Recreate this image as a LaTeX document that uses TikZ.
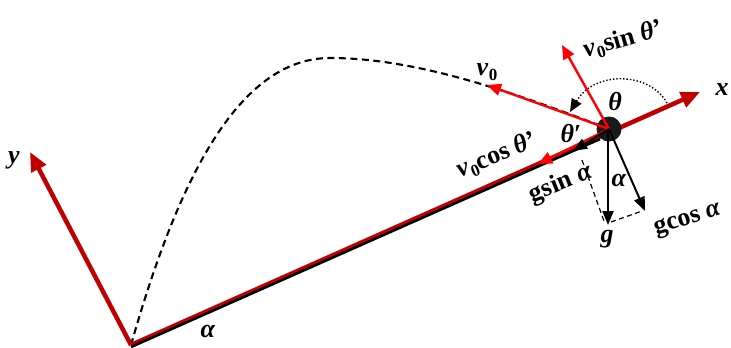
\documentclass[tikz,border=0pt]{standalone}
\usepackage{fontspec}
\setmainfont{Liberation Serif}
\usetikzlibrary{arrows.meta}
\definecolor{axisred}{HTML}{C00000}
\definecolor{vecred}{HTML}{FF0000}
\newcommand{\vsub}{\textit{v}\kern0.5pt\raisebox{-0.18em}{\fontsize{17}{17}\selectfont 0}}
\tikzset{
  lbl/.style={font=\fontsize{26}{28}\selectfont\bfseries, inner sep=0pt},
  axis/.style={line width=4.5pt, axisred, -{Triangle[length=19pt,width=16pt]}},
  rvec/.style={line width=2.4pt, vecred, -{Triangle[length=14pt,width=12pt]}},
  bvec/.style={line width=2pt, black, -{Triangle[length=14pt,width=11pt]}},
  traj/.style={line width=2.1pt, dash pattern=on 7pt off 4.5pt},
  helper/.style={line width=1.2pt, dash pattern=on 5pt off 3.5pt},
}
\begin{document}
\begin{tikzpicture}[x=1pt,y=-1pt]
\useasboundingbox (0,0) rectangle (731,348);
% key points
\coordinate (O) at (131,345);
\coordinate (xtip) at (700,92);
\coordinate (ytip) at (30,152);
\coordinate (v0tip) at (487,85);
\coordinate (vsintip) at (562,45);
\coordinate (vcostip) at (538,164);
\coordinate (gsintip) at (573,151);
\coordinate (gtip) at (608,225);
\coordinate (gcostip) at (645,211);
\coordinate (arcS) at (667,103);
\coordinate (arcE) at (570,112);
% trajectory
\draw[traj] (O) .. controls (175,190) and (235,58) .. (330,58)
  .. controls (420,58) and (520,95) .. (609,129);
% axes
\draw[axis] (O) -- (xtip);
\draw[axis] (O) -- (ytip);
\draw[line width=2.6pt, black] ([yshift=-2pt]O) -- (600,139);
% ball
\node[circle, fill=black!90, minimum size=25pt, inner sep=0pt] (B) at (609,129) {};
% theta arc
\draw[dotted, line width=1.4pt, -{Triangle[length=13pt,width=11pt]}] (arcS) .. controls (650,72) and (595,70) .. (arcE);
% red vectors
\draw[rvec] (B.center) -- (v0tip);
\draw[rvec] (B.center) -- (vsintip);
\draw[rvec] (B.center) -- (vcostip);
% black vectors
\draw[bvec] (B.center) -- (gsintip);
\draw[bvec] (608,129) -- (gtip);
\draw[bvec] (B.center) -- (gcostip);
% dashed helper lines
\draw[helper] (582,160) -- (604,221);
\draw[helper] (611,222) -- (642,211);
% labels
\node[lbl] (lx) at (722,90) {\textit{x}};
\node[lbl] (ly) at (14,160) {\textit{y}};
\node[lbl] (la) at (208,331) {\textit{α}};
\node[lbl] (lv0) at (487,72) {\vsub};
\node[lbl, rotate=16] (lvsin) at (623,40) {\vsub sin \textit{θ}’};
\node[lbl] (lth) at (615,102) {\textit{θ}};
\node[lbl] (lthp) at (571,134) {\textit{θ}′};
\node[lbl, rotate=22] (lvcos) at (497,156) {\vsub cos \textit{θ}’};
\node[lbl, rotate=22] (lgsin) at (561,184) {gsin \textit{α}};
\node[lbl] (la2) at (619,180) {\textit{α}};
\node[lbl] (lg) at (607,239) {\textit{g}};
\node[lbl, rotate=17] (lgcos) at (688,221) {gcos \textit{α}};
\end{tikzpicture}
\end{document}
